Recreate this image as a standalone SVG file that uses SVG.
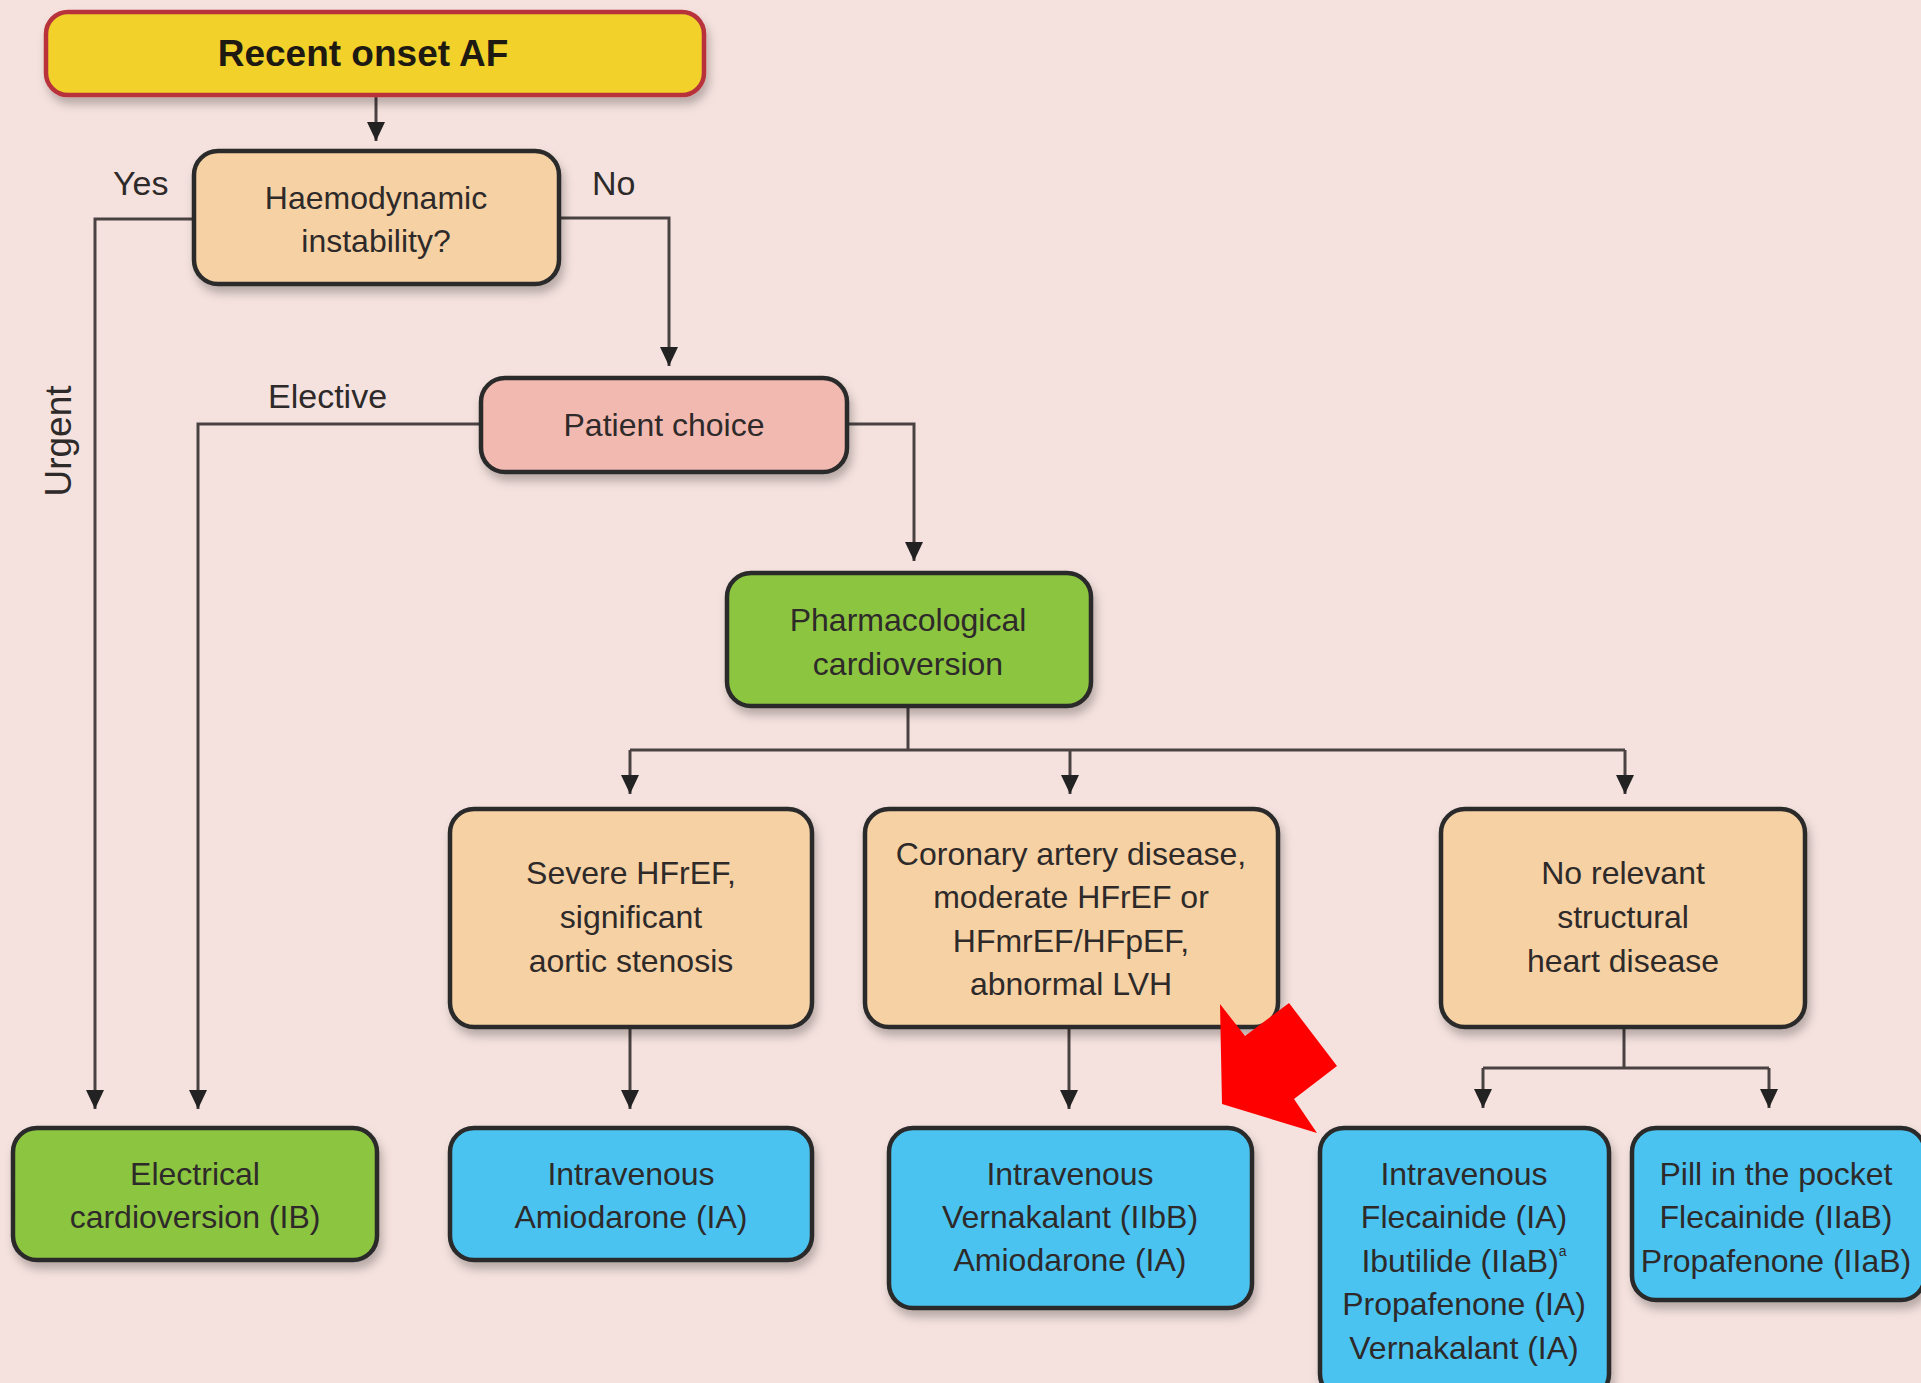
<svg xmlns="http://www.w3.org/2000/svg" width="1921" height="1383" viewBox="0 0 1921 1383">
<defs>
<style>
text{font-family:"Liberation Sans",Arial,sans-serif;fill:#2e2a2a;text-anchor:middle;font-size:32px}
.lbl{font-size:34px;text-anchor:start}
.box{stroke:#2b2b2b;stroke-width:4.5}
.peach{fill:#f6d1a4}
.blue{fill:#4cc3f1}
.green{fill:#8cc53f}
.pink{fill:#f2b9b1}
.conn{fill:none;stroke:#4a4242;stroke-width:3}
</style>
<filter id="sh" x="-10%" y="-10%" width="125%" height="140%">
<feDropShadow dx="3" dy="7" stdDeviation="5" flood-color="#000" flood-opacity="0.25"/>
</filter>
<marker id="ah" markerUnits="userSpaceOnUse" markerWidth="20" markerHeight="20" refX="19" refY="10" orient="auto" viewBox="0 0 20 20">
<path d="M0,1 L19,10 L0,19 z" fill="#222"/>
</marker>
</defs>
<rect x="0" y="0" width="1921" height="1383" fill="#f5e2de"/>

<g id="connectors">
<path class="conn" d="M376,95 V141" marker-end="url(#ah)"/>
<path class="conn" d="M194,219 H95 V1109" marker-end="url(#ah)"/>
<path class="conn" d="M559,218 H669 V366" marker-end="url(#ah)"/>
<path class="conn" d="M481,424 H198 V1109" marker-end="url(#ah)"/>
<path class="conn" d="M848,424 H914 V561" marker-end="url(#ah)"/>
<path class="conn" d="M908,707 V750 M630,750 H1625"/>
<path class="conn" d="M630,750 V794" marker-end="url(#ah)"/>
<path class="conn" d="M1070,750 V794" marker-end="url(#ah)"/>
<path class="conn" d="M1625,750 V794" marker-end="url(#ah)"/>
<path class="conn" d="M630,1027 V1109" marker-end="url(#ah)"/>
<path class="conn" d="M1069,1027 V1109" marker-end="url(#ah)"/>
<path class="conn" d="M1624,1027 V1068 M1483,1068 H1769"/>
<path class="conn" d="M1483,1068 V1108" marker-end="url(#ah)"/>
<path class="conn" d="M1769,1068 V1108" marker-end="url(#ah)"/>
<text class="lbl" x="113" y="195">Yes</text>
<text class="lbl" x="592" y="195">No</text>
<text class="lbl" x="268" y="408">Elective</text>
<text class="lbl" transform="translate(71,441) rotate(-90)" style="text-anchor:middle;font-size:37px">Urgent</text>
</g>

<g id="n-recent">
<rect x="46" y="12" width="658" height="83" rx="22" fill="#f2d22c" stroke="#b8333a" stroke-width="4.5" filter="url(#sh)"/>
<text x="363" y="66" style="font-weight:bold;font-size:37px;fill:#1e1a12">Recent onset AF</text>
</g>

<g id="n-haemo">
<rect class="box peach" x="194" y="151" width="365" height="133" rx="24" filter="url(#sh)"/>
<text x="376" y="209">Haemodynamic</text>
<text x="376" y="252">instability?</text>
</g>

<g id="n-patient">
<rect class="box pink" x="481" y="378" width="366" height="94" rx="24" filter="url(#sh)"/>
<text x="664" y="436">Patient choice</text>
</g>

<g id="n-pharm">
<rect class="box green" x="727" y="573" width="364" height="133" rx="24" filter="url(#sh)"/>
<text x="908" y="631">Pharmacological</text>
<text x="908" y="675">cardioversion</text>
</g>

<g id="n-severe">
<rect class="box peach" x="450" y="809" width="362" height="218" rx="24" filter="url(#sh)"/>
<text x="631" y="884">Severe HFrEF,</text>
<text x="631" y="928">significant</text>
<text x="631" y="972">aortic stenosis</text>
</g>

<g id="n-coronary">
<rect class="box peach" x="865" y="809" width="413" height="218" rx="24" filter="url(#sh)"/>
<text x="1071" y="865">Coronary artery disease,</text>
<text x="1071" y="908">moderate HFrEF or</text>
<text x="1071" y="952">HFmrEF/HFpEF,</text>
<text x="1071" y="995">abnormal LVH</text>
</g>

<g id="n-norelevant">
<rect class="box peach" x="1441" y="809" width="364" height="218" rx="24" filter="url(#sh)"/>
<text x="1623" y="884">No relevant</text>
<text x="1623" y="928">structural</text>
<text x="1623" y="972">heart disease</text>
</g>

<g id="n-electrical">
<rect class="box green" x="13" y="1128" width="364" height="132" rx="24" filter="url(#sh)"/>
<text x="195" y="1185">Electrical</text>
<text x="195" y="1228">cardioversion (IB)</text>
</g>

<g id="n-amiodarone">
<rect class="box blue" x="450" y="1128" width="362" height="132" rx="24" filter="url(#sh)"/>
<text x="631" y="1185">Intravenous</text>
<text x="631" y="1228">Amiodarone (IA)</text>
</g>

<g id="n-vernakalant">
<rect class="box blue" x="889" y="1128" width="363" height="180" rx="24" filter="url(#sh)"/>
<text x="1070" y="1185">Intravenous</text>
<text x="1070" y="1228">Vernakalant (IIbB)</text>
<text x="1070" y="1271">Amiodarone (IA)</text>
</g>

<g id="n-flecainide">
<rect class="box blue" x="1320" y="1128" width="289" height="270" rx="24" filter="url(#sh)"/>
<text x="1464" y="1185">Intravenous</text>
<text x="1464" y="1228">Flecainide (IA)</text>
<text x="1464" y="1272">Ibutilide (IIaB)<tspan style="font-size:14px" dy="-16">a</tspan></text>
<text x="1464" y="1315">Propafenone (IA)</text>
<text x="1464" y="1359">Vernakalant (IA)</text>
</g>

<g id="n-pill">
<rect class="box blue" x="1632" y="1128" width="293" height="172" rx="24" filter="url(#sh)"/>
<text x="1776" y="1185">Pill in the pocket</text>
<text x="1776" y="1228">Flecainide (IIaB)</text>
<text x="1776" y="1272">Propafenone (IIaB)</text>
</g>

<g id="red-arrow">
<polygon points="1220,1004 1245,1036 1289,1003 1337,1066 1294,1099 1317,1133 1222,1104" fill="#ff0000"/>
</g>
</svg>
